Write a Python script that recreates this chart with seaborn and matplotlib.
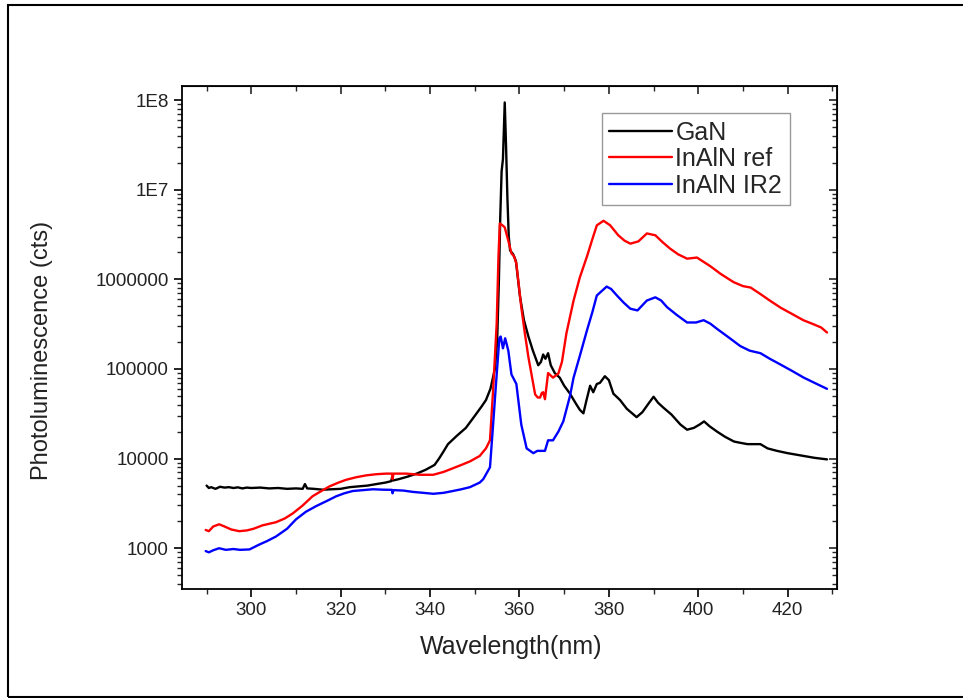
import pandas as pd
import seaborn as sns
import matplotlib.pyplot as plt
from matplotlib.ticker import FixedLocator, FixedFormatter, MultipleLocator, LogLocator, NullFormatter
from matplotlib.patches import Rectangle

# GaN spectrum (wavelength nm, counts)
gan_nm = [290, 290.5, 291, 292, 293, 294, 295, 296, 297, 298, 299, 300, 302, 304, 306, 308, 310,
          311.5, 312, 312.5, 314, 316, 318, 320, 322, 324, 326, 328, 330, 331.3, 331.5, 331.7,
          333, 335, 337, 339, 341, 342, 343, 344, 346, 348, 350, 351.5, 352.5, 353.5, 354.5,
          355, 355.4, 355.7, 356.0, 356.3, 356.7, 357.0, 357.3, 357.6, 357.9, 358.6, 359.2,
          360.1, 361, 362, 363, 364.2, 364.8, 365.3, 365.8, 366.4, 367, 367.9, 369, 370, 371.3,
          372.5, 373.5, 374.3, 375, 375.8, 376.5, 377.3, 378, 379.1, 380, 381, 382.5, 384,
          386.2, 387.5, 389, 390, 391, 392.2, 394, 396, 397.5, 399, 400.3, 401.3, 402.5, 404.2,
          406, 408, 409.4, 411, 413.9, 415.5, 417.6, 420, 423.6, 426, 428.8]
gan_cts = [5000, 4700, 4800, 4600, 4850, 4750, 4800, 4700, 4780, 4650, 4750, 4700, 4750, 4650,
           4700, 4600, 4650, 4600, 5200, 4650, 4600, 4500, 4550, 4600, 4800, 4900, 5000, 5200,
           5400, 5600, 6200, 5700, 5900, 6300, 6800, 7500, 8500, 10000, 12000, 14500, 18000,
           22000, 30000, 38000, 45000, 60000, 100000, 200000, 1e6, 5e6, 1.6e7, 2.2e7, 9.4e7,
           3e7, 8e6, 3e6, 2.1e6, 1.9e6, 1.6e6, 6.5e5, 3.5e5, 2.3e5, 1.6e5, 1.1e5, 1.2e5, 1.45e5,
           1.3e5, 1.5e5, 1.1e5, 9e4, 8e4, 6.5e4, 5.3e4, 4.2e4, 3.5e4, 3.2e4, 4.5e4, 6.5e4, 5.5e4,
           6.8e4, 7e4, 8.3e4, 7.5e4, 5.3e4, 4.5e4, 3.6e4, 2.9e4, 3.3e4, 4.2e4, 4.9e4, 4.2e4,
           3.7e4, 3.1e4, 2.4e4, 2.1e4, 2.2e4, 2.4e4, 2.6e4, 2.3e4, 2.0e4, 1.75e4, 1.55e4, 1.5e4,
           1.45e4, 1.45e4, 1.3e4, 1.22e4, 1.15e4, 1.07e4, 1.02e4, 9.8e3]

# InAlN reference
ref_nm = [289.8, 290.5, 291.5, 292.8, 294, 295.5, 297.3, 299, 300.5, 302.5, 305.5, 307.5, 309.3,
          311.5, 313.7, 315.5, 317.5, 319.5, 321.2, 323.5, 325.7, 328, 330.2, 331.5, 331.6,
          331.8, 334.7, 337.7, 340.7, 343, 345.1, 347, 348.9, 351.1, 352.5, 353.4, 354.1, 354.9,
          355.3, 355.6, 356.2, 356.7, 357.5, 358.2, 358.8, 359.3, 360.4, 361.2, 362, 363.5,
          364.1, 364.6, 365.0, 365.3, 365.7, 366.4, 367.5, 368.7, 369.5, 370.5, 372.1, 373.5,
          375.1, 376.3, 377.3, 378.8, 380.3, 382.1, 383.5, 384.8, 386.6, 388.5, 390.4, 392,
          393.7, 395.5, 397.5, 399.7, 402.7, 405, 407.9, 410, 411.7, 414, 416.1, 418.5, 421.4,
          423.5, 425.8, 427.5, 428.8]
ref_cts = [1600, 1550, 1750, 1850, 1750, 1620, 1550, 1580, 1650, 1800, 1950, 2150, 2450, 3000,
           3800, 4300, 4900, 5400, 5800, 6200, 6500, 6700, 6800, 6800, 5900, 6800, 6800, 6600,
           6600, 7100, 7800, 8500, 9300, 10700, 13000, 16000, 58000, 3.2e5, 1.8e6, 4.2e6, 4.0e6,
           3.8e6, 2.7e6, 1.95e6, 1.8e6, 1.5e6, 4.9e5, 2.5e5, 1.35e5, 5.2e4, 4.8e4, 4.8e4, 5.4e4,
           5.5e4, 4.6e4, 9e4, 8e4, 8.9e4, 1.2e5, 2.5e5, 5.8e5, 1.05e6, 1.8e6, 2.8e6, 4.0e6,
           4.5e6, 4.0e6, 3.1e6, 2.7e6, 2.5e6, 2.65e6, 3.25e6, 3.1e6, 2.6e6, 2.2e6, 1.9e6, 1.7e6,
           1.75e6, 1.4e6, 1.15e6, 9.3e5, 8.4e5, 8.1e5, 6.8e5, 5.75e5, 4.8e5, 4.0e5, 3.5e5,
           3.15e5, 2.9e5, 2.55e5]

# InAlN IR2
ir2_nm = [289.8, 290.5, 291.5, 292.8, 294.3, 296, 297.5, 299.6, 301.8, 303.5, 305.5, 308, 310,
          312.2, 314.5, 316.8, 319, 320.8, 322.7, 325, 327.2, 329.5, 331.5, 331.6, 331.8, 334,
          336.2, 338.5, 340.7, 343, 345.1, 347, 348.9, 351.1, 351.9, 353.4, 354.1, 354.9, 355.5,
          355.8, 356.3, 356.8, 357.5, 358.2, 359.3, 360.4, 361.6, 363.1, 364.0, 364.6, 365.7,
          366.4, 367.5, 368.7, 369.8, 371.3, 372.1, 373.5, 375.1, 376.3, 377.3, 379.5, 380.5,
          381.8, 383.3, 384.8, 386.4, 388.5, 390.4, 391.7, 393, 395.2, 397.5, 399.5, 401.2,
          402.7, 404.2, 406.8, 409.4, 411.5, 413.9, 416, 418.4, 421, 423.6, 426, 428.8]
ir2_cts = [930, 900, 950, 1000, 960, 980, 960, 970, 1100, 1200, 1350, 1650, 2100, 2550, 2950,
           3350, 3800, 4100, 4350, 4450, 4550, 4500, 4480, 4100, 4450, 4400, 4250, 4150, 4050,
           4150, 4350, 4550, 4800, 5400, 5900, 8000, 2.4e4, 8.7e4, 2.2e5, 2.3e5, 1.7e5, 2.2e5,
           1.6e5, 8.7e4, 6.8e4, 2.4e4, 1.3e4, 1.15e4, 1.22e4, 1.22e4, 1.22e4, 1.6e4, 1.6e4,
           2.0e4, 2.6e4, 5e4, 8e4, 1.4e5, 2.7e5, 4.3e5, 6.6e5, 8.3e5, 7.8e5, 6.6e5, 5.5e5,
           4.7e5, 4.5e5, 5.8e5, 6.3e5, 5.8e5, 4.9e5, 4.0e5, 3.3e5, 3.3e5, 3.5e5, 3.2e5, 2.8e5,
           2.25e5, 1.8e5, 1.6e5, 1.5e5, 1.3e5, 1.12e5, 9.5e4, 8e4, 7e4, 6e4]

series_names = ['GaN', 'InAlN ref', 'InAlN IR2']
series_colors = ['black', 'red', 'blue']
x_ticks = [300, 320, 340, 360, 380, 400, 420]
y_ticks = [1e3, 1e4, 1e5, 1e6, 1e7, 1e8]
y_tick_labels = ['1000', '10000', '100000', '1000000', '1E7', '1E8']

sns.set_style('ticks')
plt.rcParams['font.family'] = ['Liberation Sans', 'DejaVu Sans']

fig = plt.figure(figsize=(9.63, 6.98), dpi=100)
ax = fig.add_axes([0.189, 0.156, 0.680, 0.721])

for name, nm, cts, color in zip(series_names, [gan_nm, ref_nm, ir2_nm],
                                [gan_cts, ref_cts, ir2_cts], series_colors):
    df = pd.DataFrame({'nm': nm, 'cts': cts})
    sns.lineplot(data=df, x='nm', y='cts', color=color, lw=1.7, label=name, ax=ax)

ax.set_yscale('log')
ax.set_xlim(284.5, 431)
ax.set_ylim(350, 1.44e8)

ax.xaxis.set_major_locator(FixedLocator(x_ticks))
ax.xaxis.set_minor_locator(MultipleLocator(10))
ax.yaxis.set_major_locator(FixedLocator(y_ticks))
ax.yaxis.set_major_formatter(FixedFormatter(y_tick_labels))
ax.yaxis.set_minor_locator(LogLocator(base=10, subs=range(2, 10)))
ax.yaxis.set_minor_formatter(NullFormatter())
ax.tick_params(which='major', direction='out', length=6, width=1.2, labelsize=13.5,
               colors='black', labelcolor='#222222')
ax.tick_params(which='minor', direction='out', length=3.5, width=1.0)

# mirrored ticks pointing inward on top and right
top = ax.secondary_xaxis('top')
top.xaxis.set_major_locator(FixedLocator(x_ticks))
top.xaxis.set_minor_locator(MultipleLocator(10))
top.tick_params(which='major', direction='in', length=6, width=1.2, labeltop=False)
top.tick_params(which='minor', direction='in', length=3.5, width=1.0)
right = ax.secondary_yaxis('right')
right.yaxis.set_major_locator(FixedLocator(y_ticks))
right.yaxis.set_minor_locator(LogLocator(base=10, subs=range(2, 10)))
right.yaxis.set_minor_formatter(NullFormatter())
right.tick_params(which='major', direction='in', length=6, width=1.2, labelright=False)
right.tick_params(which='minor', direction='in', length=3.5, width=1.0)

for sp in ax.spines.values():
    sp.set_linewidth(1.3)
    sp.set_color('black')

ax.set_xlabel('Wavelength(nm)', fontsize=18, color='#222222')
ax.set_ylabel('Photoluminescence (cts)', fontsize=17, color='#222222')
ax.xaxis.set_label_coords(0.502, -0.092)
ax.yaxis.set_label_coords(-0.197, 0.475)

leg = ax.legend(loc='upper right', bbox_to_anchor=(0.928, 0.946), frameon=True, fancybox=False,
                edgecolor='gray', fontsize=18, handlelength=2.5, labelspacing=0.1,
                borderpad=0.3, handletextpad=0.15, borderaxespad=0)
leg.get_frame().set_linewidth(1.0)

fig.patches.append(Rectangle((8 / 963, 1 / 698), 1.0, 1 - 6 / 698, transform=fig.transFigure,
                             fill=False, ec='black', lw=1.5))

fig.savefig('out.png', dpi=100)
